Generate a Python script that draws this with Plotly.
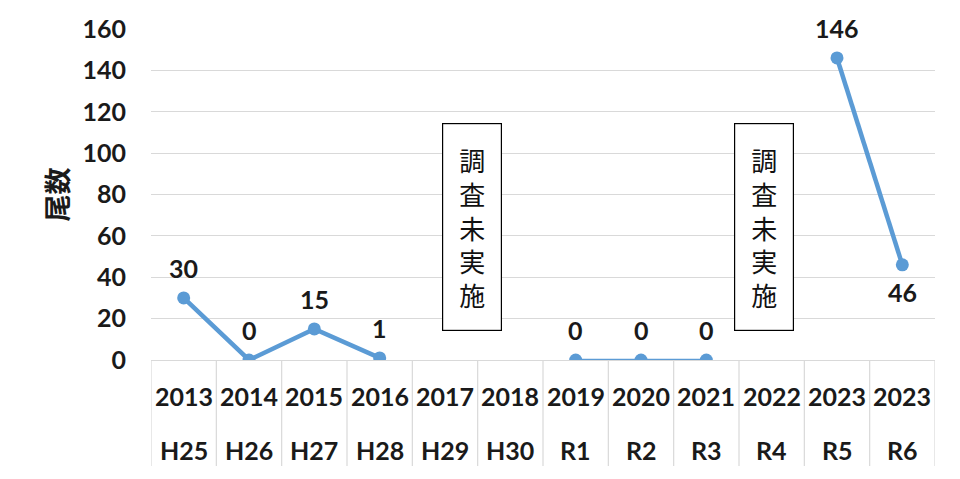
import plotly.graph_objects as go

years = ["2013", "2014", "2015", "2016", "2017", "2018", "2019", "2020", "2021", "2022", "2023", "2023"]
eras = ["H25", "H26", "H27", "H28", "H29", "H30", "R1", "R2", "R3", "R4", "R5", "R6"]
counts = [30, 0, 15, 1, None, None, 0, 0, 0, None, 146, 46]
note_text = "調査未実施"
y_title = "尾数"

BLUE = "#5b9bd5"
FONT = "Lato, 'Noto Sans CJK JP', sans-serif"
TXT = "#1a1a1a"
idx = list(range(len(years)))

fig = go.Figure()

segments = [(0, 4, 4.5), (6, 9, 2.5), (10, 12, 4.5)]
for a, b, w in segments:
    fig.add_trace(go.Scatter(
        x=idx[a:b], y=counts[a:b], mode="lines+markers",
        line=dict(color=BLUE, width=w),
        marker=dict(color=BLUE, size=13),
        showlegend=False, hoverinfo="skip",
    ))

# data labels
for i, v in enumerate(counts):
    if v is None:
        continue
    below = (i == 11)
    fig.add_annotation(
        x=i, y=v, xref="x", yref="y", text=str(v), showarrow=False,
        yshift=-27 if below else 30,
        font=dict(family=FONT, size=25, color=TXT, weight="bold"),
    )

# category labels
for i in idx:
    fig.add_annotation(x=i, y=-0.109, xref="x", yref="paper", text=years[i], showarrow=False,
                       yanchor="middle", font=dict(family=FONT, size=25, color=TXT, weight="bold"))
    fig.add_annotation(x=i, y=-0.272, xref="x", yref="paper", text=eras[i], showarrow=False,
                       yanchor="middle", font=dict(family=FONT, size=25, color=TXT, weight="bold"))

# table dividers
for k in range(len(years) + 1):
    fig.add_shape(type="line", xref="x", yref="paper", x0=k - 0.5, x1=k - 0.5, y0=0, y1=-0.32,
                  line=dict(color="#d9d9d9", width=1.2))

# note boxes
for xc in (4.41, 8.89):
    fig.add_annotation(
        x=xc, y=64.3, xref="x", yref="y", text="<br>".join(note_text), showarrow=False,
        width=58, height=206, align="center", valign="middle",
        bgcolor="white", bordercolor="#000000", borderwidth=1.2, borderpad=0,
        font=dict(family="'Noto Sans CJK JP'", size=26, color="#111111"),
    )

fig.update_layout(
    width=960, height=479,
    margin=dict(l=143, r=33, t=21, b=127, autoexpand=False),
    paper_bgcolor="white", plot_bgcolor="white",
    xaxis=dict(range=[-0.5, 11.5], showticklabels=False, showgrid=False, zeroline=False,
               showline=False, tickvals=idx, automargin=False),
    yaxis=dict(range=[0, 160], dtick=20, showgrid=True, gridcolor="#d9d9d9", gridwidth=1.2,
               zeroline=True, zerolinecolor="#d9d9d9", zerolinewidth=1.2, showline=False,
               automargin=False,
               tickfont=dict(family=FONT, size=25, color=TXT, weight="bold"),
               ticklabelstandoff=24,
               title=dict(text=y_title, standoff=6,
                          font=dict(family="'Noto Sans CJK JP'", size=27, color=TXT, weight="bold"))),
)

fig.write_html("out.html")
